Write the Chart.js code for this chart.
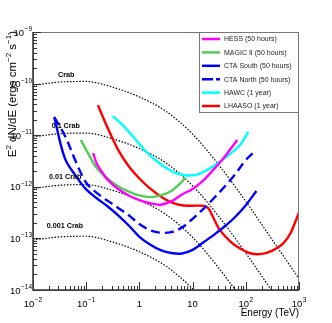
<!DOCTYPE html>
<html>
<head>
<meta charset="utf-8">
<script src="https://cdn.jsdelivr.net/npm/chart.js@4.4.1/dist/chart.umd.min.js"></script>
<style>
  html, body { margin: 0; padding: 0; background: #fff; }
  #wrap { width: 332px; height: 323px; position: relative; }
</style>
</head>
<body>
<div id="wrap"><canvas id="sens"></canvas></div>
<script>
// energies in TeV, fluxes E^2 dN/dE in erg cm^-2 s^-1
var crabEnergy = [0.01, 0.0316, 0.1, 0.316, 1, 3.16, 10, 31.6, 100, 316, 1000];
var crab1 = [9.3e-11, 1.07e-10, 1.1e-10, 8.5e-11, 5.5e-11, 2.9e-11, 1.05e-11, 2.6e-12, 5.2e-13, 9.3e-14, 1.66e-14];
var crab01 = [9.3e-12, 1.07e-11, 1.1e-11, 8.5e-12, 5.5e-12, 2.9e-12, 1.05e-12, 2.6e-13, 5.2e-14, 9.3e-15, 1.66e-15];
var crab001 = [9.3e-13, 1.07e-12, 1.1e-12, 8.5e-13, 5.5e-13, 2.9e-13, 1.05e-13, 2.6e-14, 5.2e-15, 9.3e-16, 1.66e-16];
var crab0001 = [9.3e-14, 1.07e-13, 1.1e-13, 8.5e-14, 5.5e-14, 2.9e-14, 1.05e-14, 2.6e-15, 5.2e-16, 9.3e-17, 1.66e-17];
var crabLabels = ["Crab", "0.1 Crab", "0.01 Crab", "0.001 Crab"];
var crabLabelE = [0.0295, 0.0224, 0.02, 0.0181];
var crabLabelF = [1.48e-10, 1.53e-11, 1.53e-12, 1.76e-13];

var hessEnergy = [0.135, 0.158, 0.2, 0.251, 0.398, 0.631, 1, 1.58, 2.51, 3.98, 6.31, 10, 15.8, 25.1, 39.8, 69.2];
var hessFlux = [4.5e-12, 2.8e-12, 1.9e-12, 1.38e-12, 9.1e-13, 6.8e-13, 5.5e-13, 4.8e-13, 4.5e-13, 5.2e-13, 7.1e-13, 9.1e-13, 1.32e-12, 2.2e-12, 3.8e-12, 8.1e-12];

var magicEnergy = [0.0794, 0.1, 0.158, 0.251, 0.398, 0.631, 1, 1.58, 2.51, 3.98, 6.31, 7.24];
var magicFlux = [8.1e-12, 5.2e-12, 2.3e-12, 1.45e-12, 1.02e-12, 8.1e-13, 6.8e-13, 6.3e-13, 6.8e-13, 8.3e-13, 1.26e-12, 1.51e-12];

var ctaEnergy = [0.0251, 0.0398, 0.0631, 0.1, 0.158, 0.251, 0.398, 0.631, 1, 1.58, 2.51, 3.98, 6.31, 10, 15.8, 25.1, 39.8, 63.1, 100, 158];
var ctaSouthFlux = [2.24e-11, 3.55e-12, 1.65e-12, 8.9e-13, 6.0e-13, 4.2e-13, 2.8e-13, 1.78e-13, 1.07e-13, 7.6e-14, 5.9e-14, 5.2e-14, 5.1e-14, 6.0e-14, 8.3e-14, 1.17e-13, 1.7e-13, 2.6e-13, 4.4e-13, 8.3e-13];
var ctaNorthFlux = [2.24e-11, 9.8e-12, 3.16e-12, 1.2e-12, 7.6e-13, 5.4e-13, 3.9e-13, 2.8e-13, 1.9e-13, 1.45e-13, 1.29e-13, 1.32e-13, 1.62e-13, 2.4e-13, 3.7e-13, 6.0e-13, 1.0e-12, 1.74e-12, 3.3e-12, 5.2e-12];

var hawcEnergy = [0.316, 0.501, 0.794, 1.26, 2.0, 3.16, 5.01, 7.94, 12.6, 20, 31.6, 50.1, 79.4, 112];
var hawcFlux = [2.34e-11, 1.51e-11, 8.9e-12, 5.1e-12, 3.3e-12, 2.34e-12, 1.82e-12, 1.66e-12, 1.74e-12, 2.2e-12, 3.0e-12, 4.3e-12, 6.6e-12, 1.17e-11];

var lhaasoEnergy = [0.166, 0.251, 0.398, 0.631, 1, 1.58, 2.51, 3.98, 6.31, 10, 15.8, 20, 25.1, 31.6, 50.1, 79.4, 126, 200, 316, 501, 708, 1000];
var lhaasoFlux = [3.8e-11, 1.41e-11, 5.2e-12, 2.5e-12, 1.45e-12, 9.3e-13, 6.5e-13, 5.0e-13, 4.4e-13, 4.3e-13, 4.3e-13, 3.8e-13, 2.4e-13, 1.51e-13, 8.9e-14, 6.3e-14, 5.1e-14, 5.0e-14, 5.8e-14, 7.9e-14, 1.32e-13, 3.2e-13];

var xDecades = [-2, -1, 0, 1, 2, 3];
var yDecades = [-14, -13, -12, -11, -10, -9];

var FONT = '"Liberation Sans", Arial, Helvetica, sans-serif';

function pts(es, fs) {
    return es.map(function (e, i) { return { x: e, y: fs[i] }; });
}

function sensLine(label, es, fs, color, dash) {
    return {
        label: label,
        data: pts(es, fs),
        borderColor: color,
        borderWidth: 2.4,
        borderDash: dash || [],
        pointRadius: 0,
        tension: 0.35,
        fill: false,
        legend: true
    };
}

function crabLine(fs) {
    return {
        label: "crab",
        data: pts(crabEnergy, fs),
        borderColor: "#000",
        borderWidth: 1.2,
        borderDash: [1.5, 1.6],
        pointRadius: 0,
        cubicInterpolationMode: "monotone",
        fill: false,
        legend: false
    };
}

var datasets = [
    sensLine("HESS (50 hours)", hessEnergy, hessFlux, "#ff00ff"),
    sensLine("MAGIC II (50 hours)", magicEnergy, magicFlux, "#55cc55"),
    sensLine("CTA South (50 hours)", ctaEnergy, ctaSouthFlux, "#0000ff"),
    sensLine("CTA North (50 hours)", ctaEnergy, ctaNorthFlux, "#0000ff", [9, 5]),
    sensLine("HAWC (1 year)", hawcEnergy, hawcFlux, "#00ffff"),
    sensLine("LHAASO (1 year)", lhaasoEnergy, lhaasoFlux, "#ff0000"),
    crabLine(crab1),
    crabLine(crab01),
    crabLine(crab001),
    crabLine(crab0001)
];
datasets[5].tension = 0.2;

// draws "10" with an exponent; align: 'right' or 'center'
function drawPow(ctx, base, exp, x, y, align) {
    ctx.font = "9.5px " + FONT;
    var wb = ctx.measureText(base).width;
    ctx.font = "6.5px " + FONT;
    var we = exp ? ctx.measureText(exp).width + 0.5 : 0;
    var w = wb + we;
    var x0 = align === "right" ? x - w : x - w / 2;
    ctx.textAlign = "left";
    ctx.textBaseline = "alphabetic";
    ctx.font = "9.5px " + FONT;
    ctx.fillText(base, x0, y);
    if (exp) {
        ctx.font = "6.5px " + FONT;
        ctx.fillText(exp, x0 + wb + 0.5, y - 4.5);
    }
}

function drawParts(ctx, parts, x, y) {
    var i, w = 0;
    for (i = 0; i < parts.length; i++) {
        ctx.font = (parts[i][1] ? "8px " : "11.5px ") + FONT;
        w += ctx.measureText(parts[i][0]).width;
    }
    var cx = x - w;
    ctx.textAlign = "left";
    ctx.textBaseline = "alphabetic";
    for (i = 0; i < parts.length; i++) {
        ctx.font = (parts[i][1] ? "8px " : "11.5px ") + FONT;
        ctx.fillText(parts[i][0], cx, parts[i][1] ? y - 5 : y);
        cx += ctx.measureText(parts[i][0]).width;
    }
}

var rootAxes = {
    id: "rootAxes",
    afterDatasetsDraw: function (chart) {
        var ctx = chart.ctx, a = chart.chartArea;
        var xs = chart.scales.x, ys = chart.scales.y;
        var i, m, p;
        ctx.save();

        // frame
        ctx.strokeStyle = "#777";
        ctx.lineWidth = 1;
        ctx.strokeRect(a.left + 0.5, a.top + 0.5, a.right - a.left - 1, a.bottom - a.top);
        ctx.strokeStyle = "#333";
        ctx.lineWidth = 1.5;
        ctx.beginPath();
        ctx.moveTo(a.left, a.top);
        ctx.lineTo(a.left, a.bottom);
        ctx.lineTo(a.right, a.bottom);
        ctx.stroke();

        // ticks
        ctx.lineWidth = 1;
        ctx.strokeStyle = "#333";
        ctx.beginPath();
        for (i = 0; i < xDecades.length; i++) {
            for (m = 1; m <= 9; m++) {
                if (i === xDecades.length - 1 && m > 1) break;
                p = Math.round(xs.getPixelForValue(m * Math.pow(10, xDecades[i]))) + 0.5;
                ctx.moveTo(p, a.bottom);
                ctx.lineTo(p, a.bottom - (m === 1 ? 8 : 4));
            }
        }
        for (i = 0; i < yDecades.length; i++) {
            for (m = 1; m <= 9; m++) {
                if (i === yDecades.length - 1 && m > 1) break;
                p = Math.round(ys.getPixelForValue(m * Math.pow(10, yDecades[i]))) + 0.5;
                ctx.moveTo(a.left, p);
                ctx.lineTo(a.left + (m === 1 ? 8 : 4), p);
            }
        }
        ctx.stroke();

        // tick labels
        ctx.fillStyle = "#000";
        for (i = 0; i < xDecades.length; i++) {
            var d = xDecades[i];
            p = xs.getPixelForValue(Math.pow(10, d));
            if (d === 0) drawPow(ctx, "1", "", p, 306.5, "center");
            else if (d === 1) drawPow(ctx, "10", "", p, 306.5, "center");
            else drawPow(ctx, "10", (d < 0 ? "\u2212" : "") + Math.abs(d), p, 306.5, "center");
        }
        for (i = 0; i < yDecades.length; i++) {
            p = ys.getPixelForValue(Math.pow(10, yDecades[i]));
            drawPow(ctx, "10", "\u2212" + Math.abs(yDecades[i]), 32, p + 3.5, "right");
        }

        // axis titles
        ctx.font = "10px " + FONT;
        ctx.textAlign = "right";
        ctx.textBaseline = "alphabetic";
        ctx.fillText("Energy (TeV)", a.right, 316);
        ctx.save();
        ctx.translate(15.5, 31);
        ctx.rotate(-Math.PI / 2);
        drawParts(ctx, [["E", 0], ["2", 1], [" dN/dE (ergs cm", 0], ["\u22122", 1], [" s", 0], ["\u22121", 1], [")", 0]], 0, 0);
        ctx.restore();

        // crab labels
        ctx.font = "bold 7.2px " + FONT;
        ctx.textAlign = "left";
        ctx.textBaseline = "middle";
        for (i = 0; i < crabLabels.length; i++) {
            ctx.fillText(crabLabels[i], xs.getPixelForValue(crabLabelE[i]), ys.getPixelForValue(crabLabelF[i]));
        }

        // legend
        var lx = 199.5, ly = a.top + 0.5, lw = a.right - 200, lh = 80;
        ctx.fillStyle = "#fff";
        ctx.fillRect(lx, ly, lw, lh);
        ctx.strokeStyle = "#777";
        ctx.lineWidth = 1;
        ctx.strokeRect(lx, ly, lw, lh);
        var row = 0;
        chart.data.datasets.forEach(function (ds) {
            if (!ds.legend) return;
            var yy = 39 + row * 13.4;
            ctx.strokeStyle = ds.borderColor;
            ctx.lineWidth = 2.5;
            ctx.setLineDash(ds.borderDash.length ? [11, 3] : []);
            ctx.beginPath();
            ctx.moveTo(202, yy);
            ctx.lineTo(220, yy);
            ctx.stroke();
            ctx.setLineDash([]);
            ctx.fillStyle = "#222";
            ctx.font = "7px " + FONT;
            ctx.textAlign = "left";
            ctx.textBaseline = "middle";
            ctx.fillText(ds.label, 224, yy + 0.5);
            row++;
        });
        ctx.restore();
    }
};

var chart = new Chart(document.getElementById("sens"), {
    type: "line",
    data: { datasets: datasets },
    options: {
        responsive: true,
        maintainAspectRatio: false,
        animation: false,
        layout: { padding: { left: 33, right: 33, top: 32, bottom: 33 } },
        scales: {
            x: { type: "logarithmic", min: 0.01, max: 1000, display: false },
            y: { type: "logarithmic", min: 1e-14, max: 1e-9, display: false }
        },
        plugins: {
            legend: { display: false },
            tooltip: { enabled: false }
        }
    },
    plugins: [rootAxes]
});
</script>
</body>
</html>
